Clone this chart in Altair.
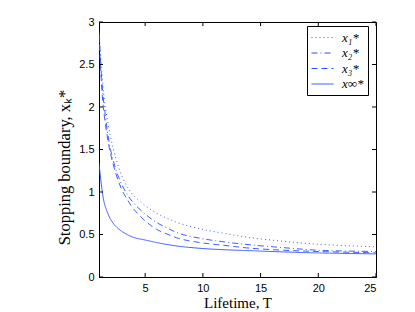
import altair as alt
import pandas as pd

T = [1, 1.25, 1.5, 2, 2.5, 3, 3.5, 4, 5, 6, 7, 8, 10, 12, 14, 17, 20, 25]
x1 = [2.9, 2.4, 2.05, 1.65, 1.38, 1.18, 1.05, 0.96, 0.84, 0.75, 0.685, 0.63, 0.56, 0.51, 0.465, 0.42, 0.385, 0.355]
x2 = [2.88, 2.3, 1.95, 1.5, 1.25, 1.08, 0.96, 0.87, 0.74, 0.64, 0.57, 0.51, 0.45, 0.41, 0.38, 0.345, 0.315, 0.30]
x3 = [2.85, 2.2, 1.85, 1.45, 1.2, 1.02, 0.9, 0.8, 0.66, 0.56, 0.50, 0.45, 0.40, 0.37, 0.34, 0.315, 0.30, 0.285]
xinf = [1.34, 1.04, 0.85, 0.68, 0.59, 0.535, 0.495, 0.465, 0.435, 0.405, 0.38, 0.36, 0.335, 0.32, 0.31, 0.295, 0.283, 0.272]

series_names = ["x₁*", "x₂*", "x₃*", "x∞*"]
series_vals = [x1, x2, x3, xinf]
dashes = [[1, 3], [6, 3, 1, 3], [6, 4], [1, 0]]

x_ticks = [5, 10, 15, 20, 25]
y_ticks = [0, 0.5, 1, 1.5, 2, 2.5, 3]

rows = []
for name, vals in zip(series_names, series_vals):
    for t, v in zip(T, vals):
        rows.append({"T": t, "x": v, "series": name})
df = pd.DataFrame(rows)

xscale = alt.Scale(domain=[1, 25], nice=False, zero=False)
yscale = alt.Scale(domain=[0, 3], nice=False)

lines = alt.Chart(df).mark_line(strokeWidth=0.9, interpolate="catmull-rom", clip=True).encode(
    x=alt.X("T:Q", scale=xscale,
            axis=alt.Axis(values=x_ticks, title="Lifetime, T", tickSize=0, labelPadding=5,
                          titlePadding=2, format="~g", titleFontSize=15)),
    y=alt.Y("x:Q", scale=yscale,
            axis=alt.Axis(values=y_ticks, title="Stopping boundary, xₖ*", tickSize=0,
                          labelPadding=5, titlePadding=6, format="~g", titleFontSize=16.5,
                          titleY=145)),
    color=alt.Color("series:N", sort=series_names,
                    scale=alt.Scale(domain=series_names, range=["#2a4dff"] * 4),
                    legend=alt.Legend(title=None)),
    strokeDash=alt.StrokeDash("series:N", sort=series_names,
                              scale=alt.Scale(domain=series_names, range=dashes),
                              legend=alt.Legend(title=None)),
)

xt = pd.DataFrame({"t": x_ticks})
yt = pd.DataFrame({"v": y_ticks})
tick_style = dict(color="black", strokeWidth=1)
xb = alt.Chart(xt).mark_rule(**tick_style).encode(x=alt.X("t:Q", scale=xscale), y=alt.value(255), y2=alt.value(251))
xtop = alt.Chart(xt).mark_rule(**tick_style).encode(x=alt.X("t:Q", scale=xscale), y=alt.value(0), y2=alt.value(4))
yl = alt.Chart(yt).mark_rule(**tick_style).encode(y=alt.Y("v:Q", scale=yscale), x=alt.value(0), x2=alt.value(4))
yr = alt.Chart(yt).mark_rule(**tick_style).encode(y=alt.Y("v:Q", scale=yscale), x=alt.value(277), x2=alt.value(273))

chart = alt.layer(lines, xb, xtop, yl, yr).properties(
    width=277, height=255,
    autosize=alt.AutoSizeParams(type="none"),
    padding={"left": 91, "top": 14, "right": 20, "bottom": 40},
).configure_view(stroke="black", strokeWidth=1).configure_axis(
    domainColor="black", labelFont="Liberation Sans", labelFontSize=11, labelColor="black",
    titleFont="Liberation Serif", titleFontWeight="normal", titleColor="black",
    grid=False,
).configure_legend(
    orient="none", legendX=208, legendY=4, strokeColor="black", fillColor="white", padding=4,
    symbolType="M-1.57,0H1.57", symbolSize=196, symbolStrokeWidth=1, symbolOffset=4,
    labelFont="Liberation Serif", labelFontSize=13, labelFontStyle="italic", labelColor="black",
    rowPadding=0.5, labelOffset=12, cornerRadius=0,
)

chart.save("out.html", embed_options={"renderer": "svg", "actions": False})
